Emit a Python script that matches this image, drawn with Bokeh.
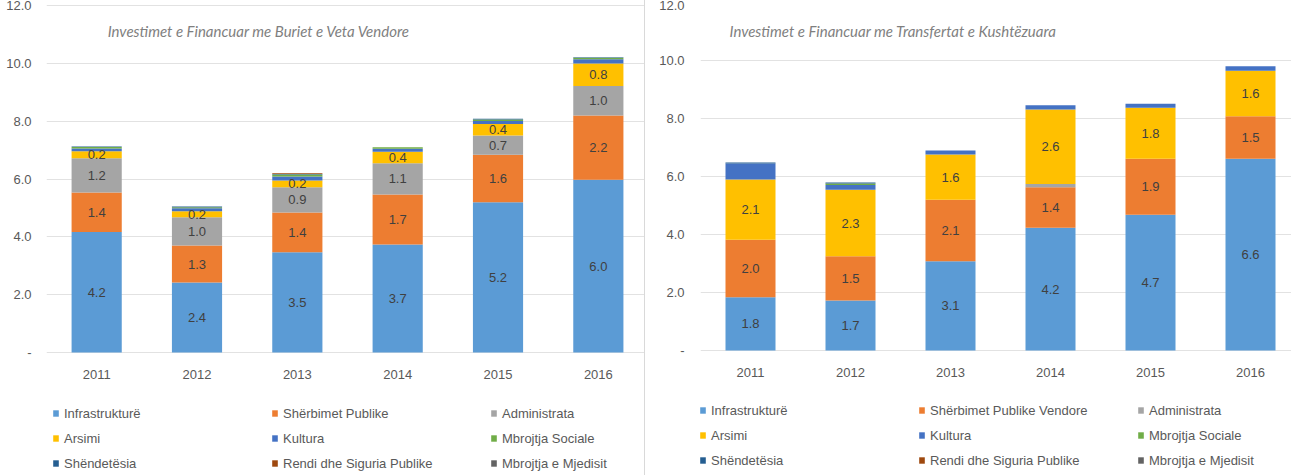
from bokeh.plotting import figure
from bokeh.models import (ColumnDataSource, Range1d, FixedTicker, NumeralTickFormatter,
                          Legend, LegendItem, LabelSet, Label, Spacer)
from bokeh.layouts import row
from bokeh.embed import file_html
from bokeh.resources import INLINE
from bokeh.core.properties import value

FONT = "Liberation Sans"
TITLE_FONT = "Lato"

years = [2011, 2012, 2013, 2014, 2015, 2016]
keys = ["infra", "sherb", "admin", "arsimi", "kultura", "sociale", "shendet", "rendi", "mjedis"]
colors = ["#5B9BD5", "#ED7D31", "#A5A5A5", "#FFC000", "#4472C4", "#70AD47", "#255E91", "#9E480E", "#636363"]

left_names = ["Infrastrukturë", "Shërbimet Publike", "Administrata", "Arsimi", "Kultura",
              "Mbrojtja Sociale", "Shëndetësia", "Rendi dhe Siguria Publike", "Mbrojtja e Mjedisit"]
right_names = ["Infrastrukturë", "Shërbimet Publike Vendore", "Administrata", "Arsimi", "Kultura",
               "Mbrojtja Sociale", "Shëndetësia", "Rendi dhe Siguria Publike", "Mbrojtja e Mjedisit"]

left_title = "Investimet e Financuar me Buriet e Veta Vendore"
right_title = "Investimet e Financuar me Transfertat e Kushtëzuara"

# Left chart: own-source funded investments
l_infra = [4.17, 2.42, 3.47, 3.74, 5.20, 5.98]
l_sherb = [1.37, 1.28, 1.37, 1.73, 1.64, 2.22]
l_admin = [1.18, 0.98, 0.88, 1.08, 0.67, 1.02]
l_arsimi = [0.24, 0.21, 0.23, 0.40, 0.40, 0.78]
l_kultura = [0.10, 0.10, 0.14, 0.10, 0.10, 0.15]
l_sociale = [0.05, 0.04, 0.07, 0.05, 0.05, 0.05]
l_shendet = [0.02, 0.02, 0.02, 0.00, 0.03, 0.02]
l_rendi = [0.00, 0.00, 0.02, 0.00, 0.00, 0.00]
l_mjedis = [0.00, 0.00, 0.00, 0.00, 0.00, 0.00]

# Right chart: conditional transfers funded investments
r_infra = [1.84, 1.72, 3.08, 4.23, 4.68, 6.61]
r_sherb = [1.98, 1.53, 2.12, 1.40, 1.93, 1.47]
r_admin = [0.00, 0.00, 0.00, 0.11, 0.00, 0.00]
r_arsimi = [2.08, 2.29, 1.56, 2.57, 1.76, 1.57]
r_kultura = [0.55, 0.17, 0.14, 0.15, 0.14, 0.15]
r_sociale = [0.00, 0.05, 0.00, 0.00, 0.00, 0.00]
r_shendet = [0.03, 0.03, 0.00, 0.00, 0.00, 0.00]
r_rendi = [0.00, 0.00, 0.00, 0.00, 0.00, 0.00]
r_mjedis = [0.00, 0.00, 0.00, 0.00, 0.00, 0.00]

left_data = [l_infra, l_sherb, l_admin, l_arsimi, l_kultura, l_sociale, l_shendet, l_rendi, l_mjedis]
right_data = [r_infra, r_sherb, r_admin, r_arsimi, r_kultura, r_sociale, r_shendet, r_rendi, r_mjedis]

y_ticks = [0, 2, 4, 6, 8, 10, 12]

TEXT = "#595959"
H = 475
# legend fills column by column; this order shows the series row by row
LEGEND_ORDER = [0, 3, 6, 1, 4, 7, 2, 5, 8]


def build(names, data, width, min_left, y_start, y_end, x_end, title, tx, ty,
          y_standoff, leg_loc):
    src = ColumnDataSource(dict(year=years, **{k: v for k, v in zip(keys, data)}))
    p = figure(width=width, height=H, x_range=Range1d(2010.5, x_end),
               y_range=Range1d(y_start, y_end),
               output_backend="svg", toolbar_location=None,
               min_border_left=min_left, min_border_right=0, min_border_top=2,
               min_border_bottom=0)
    p.outline_line_color = None
    p.background_fill_color = "white"
    p.border_fill_color = "white"

    rs = p.vbar_stack(keys, x="year", width=0.5, fill_color=colors, line_color=None, source=src)

    # data labels (main series only)
    lx, ly, lt = [], [], []
    for i, yr in enumerate(years):
        base = 0.0
        for j in range(len(keys)):
            v = data[j][i]
            if j < 4 and v >= 0.15:
                lx.append(yr)
                ly.append(base + v / 2)
                lt.append(f"{v:.1f}")
            base += v
    lsrc = ColumnDataSource(dict(x=lx, y=ly, t=lt))
    p.add_layout(LabelSet(x="x", y="y", text="t", source=lsrc, text_align="center",
                          text_baseline="middle", text_font=value(FONT),
                          text_font_size="13px", text_color="#404040"))

    # x axis drawn at value 0
    p.xaxis.fixed_location = 0
    p.xaxis.ticker = FixedTicker(ticks=years)
    p.xaxis.major_label_overrides = {y: str(y) for y in years}
    p.xaxis.axis_line_color = None
    p.xaxis.major_tick_line_color = None
    p.xaxis.major_tick_out = 0
    p.xaxis.major_tick_in = 0
    p.xaxis.minor_tick_line_color = None
    p.xaxis.major_label_standoff = 17
    p.xaxis.major_label_text_font = FONT
    p.xaxis.major_label_text_font_size = "13px"
    p.xaxis.major_label_text_color = TEXT

    p.yaxis.ticker = FixedTicker(ticks=y_ticks)
    p.yaxis.formatter = NumeralTickFormatter(format="0.0")
    p.yaxis.major_label_overrides = {0: "-"}
    p.yaxis.axis_line_color = None
    p.yaxis.major_tick_line_color = None
    p.yaxis.major_tick_out = 0
    p.yaxis.major_tick_in = 0
    p.yaxis.minor_tick_line_color = None
    p.yaxis.major_label_standoff = y_standoff
    p.yaxis.major_label_text_font = FONT
    p.yaxis.major_label_text_font_size = "13px"
    p.yaxis.major_label_text_color = TEXT

    p.xgrid.grid_line_color = None
    p.ygrid.ticker = FixedTicker(ticks=y_ticks)
    p.ygrid.grid_line_color = "#e2e2e2"
    p.ygrid.grid_line_width = 1

    p.add_layout(Label(x=tx, y=ty, text=title, text_font=TITLE_FONT, text_font_style="italic",
                       text_font_size="15px", text_color="#7f7f7f", text_baseline="middle"))

    items = [LegendItem(label=names[i], renderers=[rs[i]]) for i in LEGEND_ORDER]
    legend = Legend(items=items, ncols=3, location=leg_loc, margin=0, padding=0,
                    spacing=7, glyph_width=7, glyph_height=8, label_standoff=5,
                    label_width=200, label_height=18, border_line_color=None,
                    background_fill_alpha=0, label_text_font=FONT,
                    label_text_font_size="13px", label_text_color=TEXT)
    p.add_layout(legend)
    return p


p1 = build(left_names, left_data, 644, 46, -123 / 28.9, 350 / 28.9, 2016.46, left_title,
           2011.11, 11.14, 15, (6, 3))
p2 = build(right_names, right_data, 646, 55, -125 / 29.0, 348 / 29.0, 2016.41, right_title,
           2010.79, 11.03, 16, (-1, 6))

sep = Spacer(width=1, height=H, styles={"background-color": "#d9d9d9"})
layout = row(p1, sep, p2)

open("out.html", "w").write(file_html(layout, INLINE))
